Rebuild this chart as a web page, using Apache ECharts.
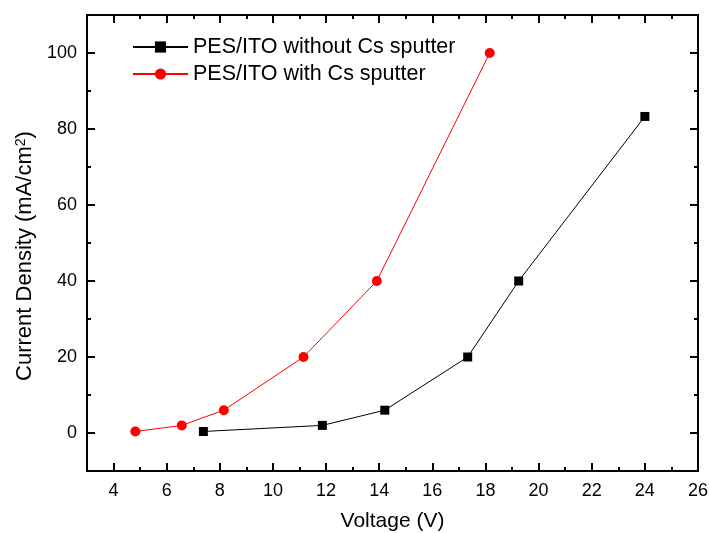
<!DOCTYPE html>
<html>
<head>
<meta charset="utf-8">
<script src="https://cdn.jsdelivr.net/npm/echarts@6/dist/echarts.min.js"></script>
<style>
  html, body { margin: 0; padding: 0; background: #fff; }
  #chart { width: 709px; height: 533px; }
</style>
</head>
<body>
<div id="chart"></div>
<script>
// Current density vs. voltage for PES/ITO substrates
const seriesNames = ['PES/ITO without Cs sputter', 'PES/ITO with Cs sputter'];
const voltageWithout = [7.38, 11.86, 14.21, 17.33, 19.25, 24.0];
const densityWithout = [0.4, 2, 6, 20, 40, 83.3];
const voltageWith = [4.82, 6.57, 8.15, 11.15, 13.91, 18.16];
const densityWith = [0.4, 2, 6, 20, 40, 100];

// Tick positions: labelled major ticks and short minor ticks
const xMajorTicks = [4, 6, 8, 10, 12, 14, 16, 18, 20, 22, 24, 26];
const xMinorTicks = [5, 7, 9, 11, 13, 15, 17, 19, 21, 23, 25];
const yMajorTicks = [0, 20, 40, 60, 80, 100];
const yMinorTicks = [10, 30, 50, 70, 90];

const FONT = '"Liberation Sans", Arial, Helvetica, sans-serif';

function pairs(xs, ys) {
  return xs.map((x, i) => [x, ys[i]]);
}

function xAxisDef(position, ticks, len, withLabels) {
  return {
    type: 'value', position: position, min: 3, max: 26, interval: 1,
    axisLine: { show: true, onZero: false, lineStyle: { color: '#000', width: 2 } },
    axisTick: { show: true, inside: true, length: len, customValues: ticks,
                lineStyle: { color: '#000', width: 2 } },
    axisLabel: withLabels
      ? { show: true, customValues: ticks, margin: 11, color: '#000', fontSize: 18, fontFamily: FONT }
      : { show: false },
    splitLine: { show: false }
  };
}

function yAxisDef(position, ticks, len, withLabels) {
  return {
    type: 'value', position: position, min: -10, max: 110, interval: 10,
    axisLine: { show: true, onZero: false, lineStyle: { color: '#000', width: 2 } },
    axisTick: { show: true, inside: true, length: len, customValues: ticks,
                lineStyle: { color: '#000', width: 2 } },
    axisLabel: withLabels
      ? { show: true, customValues: ticks, margin: 10, color: '#000', fontSize: 18, fontFamily: FONT }
      : { show: false },
    splitLine: { show: false }
  };
}

const xBottom = xAxisDef('bottom', xMajorTicks, 8, true);
xBottom.name = 'Voltage (V)';
xBottom.nameLocation = 'middle';
xBottom.nameGap = 40;
xBottom.nameTextStyle = { color: '#000', fontSize: 21, fontFamily: FONT };

const yLeft = yAxisDef('left', yMajorTicks, 8, true);
yLeft.name = 'Current Density (mA/cm{s|2})';
yLeft.nameLocation = 'middle';
yLeft.nameGap = 51;
yLeft.nameTextStyle = {
  color: '#000', fontSize: 22, fontFamily: FONT,
  padding: [0, 26, 0, 0],
  rich: { s: { fontSize: 14, fontFamily: FONT, color: '#000', verticalAlign: 'top', padding: [0, 0, 8, 0] } }
};

const chart = echarts.init(document.getElementById('chart'), null, { renderer: 'canvas' });
chart.setOption({
  backgroundColor: '#fff',
  animation: false,
  grid: { left: 87, right: 11, top: 15, bottom: 62, containLabel: false, outerBoundsMode: 'none' },
  legend: {
    orient: 'vertical', left: 127, top: 31,
    itemWidth: 55, itemHeight: 14, itemGap: 5,
    textStyle: { color: '#000', fontSize: 21.5, fontFamily: FONT },
    data: seriesNames
  },
  xAxis: [
    xBottom,
    xAxisDef('bottom', xMinorTicks, 4, false),
    xAxisDef('top', xMajorTicks, 8, false),
    xAxisDef('top', xMinorTicks, 4, false)
  ],
  yAxis: [
    yLeft,
    yAxisDef('left', yMinorTicks, 4, false),
    yAxisDef('right', yMajorTicks, 8, false),
    yAxisDef('right', yMinorTicks, 4, false)
  ],
  series: [
    {
      name: seriesNames[0], type: 'line', xAxisIndex: 0, yAxisIndex: 0,
      data: pairs(voltageWithout, densityWithout),
      symbol: 'rect', symbolSize: 9, showAllSymbol: true,
      lineStyle: { color: '#000', width: 1 },
      itemStyle: { color: '#000' }
    },
    {
      name: seriesNames[1], type: 'line', xAxisIndex: 0, yAxisIndex: 0,
      data: pairs(voltageWith, densityWith),
      symbol: 'circle', symbolSize: 10, showAllSymbol: true,
      lineStyle: { color: '#ff0000', width: 1 },
      itemStyle: { color: '#ff0000' }
    }
  ]
});
</script>
</body>
</html>
